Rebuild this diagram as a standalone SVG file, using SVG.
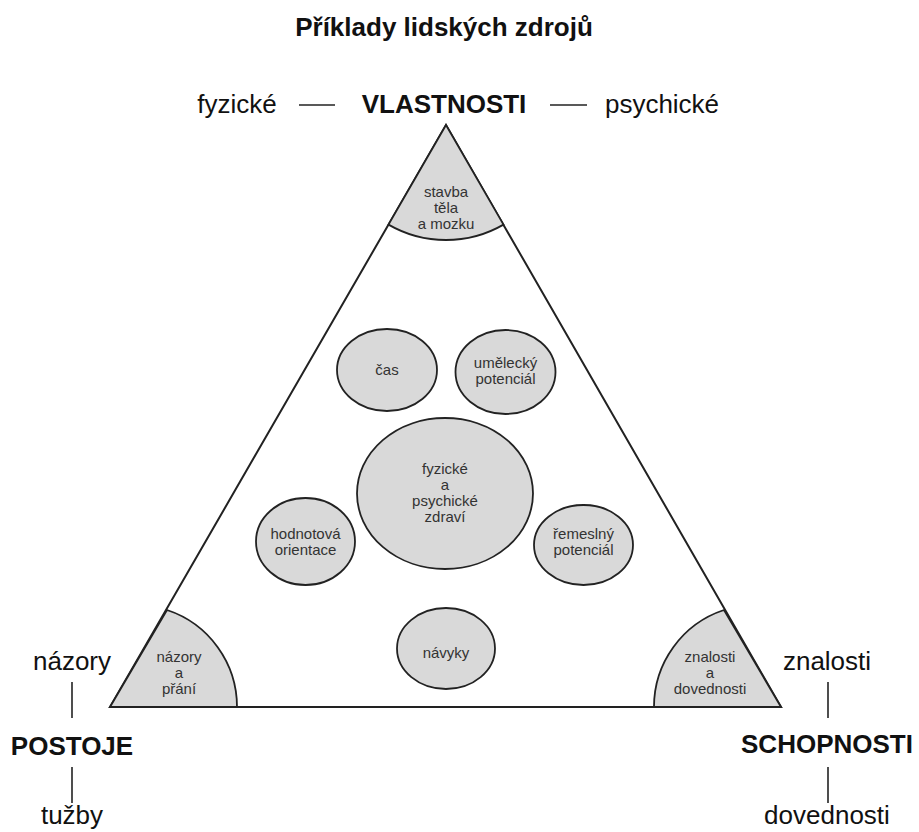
<svg xmlns="http://www.w3.org/2000/svg" width="919" height="832" viewBox="0 0 919 832">
<style>
.big{font-family:"Liberation Sans",Arial,sans-serif;font-size:26px;fill:#111;text-anchor:middle}
.bold{font-weight:bold}
.sm{font-family:"Liberation Sans",Arial,sans-serif;font-size:15px;fill:#333;text-anchor:middle}
.shape{fill:#d9d9d9;stroke:#222;stroke-width:1.8}
.ln{stroke:#222;stroke-width:1.6;fill:none}
</style>
<rect width="919" height="832" fill="#fff"/>
<g id="title"><text class="big bold" x="444" y="36">Příklady lidských zdrojů</text></g>

<g id="triangle"><polygon points="446,125 781,707 110,707" fill="#fff" stroke="#222" stroke-width="2"/></g>

<g id="sector-top">
<path class="shape" d="M446,125 L388.5,224.6 A115,115 0 0,0 503.5,224.6 Z"/>
<text class="sm" x="446" y="197">stavba</text>
<text class="sm" x="446" y="213">těla</text>
<text class="sm" x="446" y="229">a mozku</text>
</g>
<g id="sector-left">
<path class="shape" d="M110,707 L167,610 A102,102 0 0,1 237,707 Z"/>
<text class="sm" x="179" y="662">názory</text>
<text class="sm" x="179" y="678">a</text>
<text class="sm" x="179" y="694">přání</text>
</g>
<g id="sector-right">
<path class="shape" d="M781,707 L724,610 A102,102 0 0,0 654,707 Z"/>
<text class="sm" x="710" y="662">znalosti</text>
<text class="sm" x="710" y="678">a</text>
<text class="sm" x="710" y="694">dovednosti</text>
</g>
<path d="M110,707 L781,707" stroke="#222" stroke-width="2"/>

<g id="cas"><ellipse class="shape" cx="387" cy="370" rx="50" ry="41"/><text class="sm" x="387" y="375">čas</text></g>
<g id="umelecky"><ellipse class="shape" cx="505.5" cy="372" rx="50" ry="42"/><text class="sm" x="505.5" y="368">umělecký</text><text class="sm" x="505.5" y="384">potenciál</text></g>
<g id="zdravi"><ellipse class="shape" cx="445" cy="493.5" rx="88" ry="75.5"/><text class="sm" x="445" y="474">fyzické</text><text class="sm" x="445" y="490">a</text><text class="sm" x="445" y="506">psychické</text><text class="sm" x="445" y="522">zdraví</text></g>
<g id="hodnotova"><ellipse class="shape" cx="305.5" cy="541.5" rx="49.5" ry="43.5"/><text class="sm" x="305.5" y="539">hodnotová</text><text class="sm" x="305.5" y="555">orientace</text></g>
<g id="remeslny"><ellipse class="shape" cx="583.5" cy="545" rx="49.5" ry="40"/><text class="sm" x="583.5" y="539">řemeslný</text><text class="sm" x="583.5" y="555">potenciál</text></g>
<g id="navyky"><ellipse class="shape" cx="446" cy="648.5" rx="49" ry="40.5"/><text class="sm" x="446" y="658">návyky</text></g>

<g id="vlastnosti">
<text class="big" x="237" y="113">fyzické</text>
<text class="big bold" x="444" y="113">VLASTNOSTI</text>
<text class="big" x="662" y="113">psychické</text>
</g>
<g id="postoje">
<text class="big" x="72" y="670">názory</text>
<text class="big bold" x="72" y="755">POSTOJE</text>
<text class="big" x="72" y="824">tužby</text>
</g>
<g id="schopnosti">
<text class="big" x="827" y="670">znalosti</text>
<text class="big bold" x="827" y="753">SCHOPNOSTI</text>
<text class="big" x="827" y="824">dovednosti</text>
</g>

<g id="connectors">
<line class="ln" x1="299" y1="105" x2="335" y2="105"/>
<line class="ln" x1="550" y1="105" x2="587" y2="105"/>
<line class="ln" x1="72" y1="682" x2="72" y2="718"/>
<line class="ln" x1="72" y1="767" x2="72" y2="803"/>
<line class="ln" x1="828" y1="682" x2="828" y2="718"/>
<line class="ln" x1="828" y1="767" x2="828" y2="803"/>
</g>
</svg>
